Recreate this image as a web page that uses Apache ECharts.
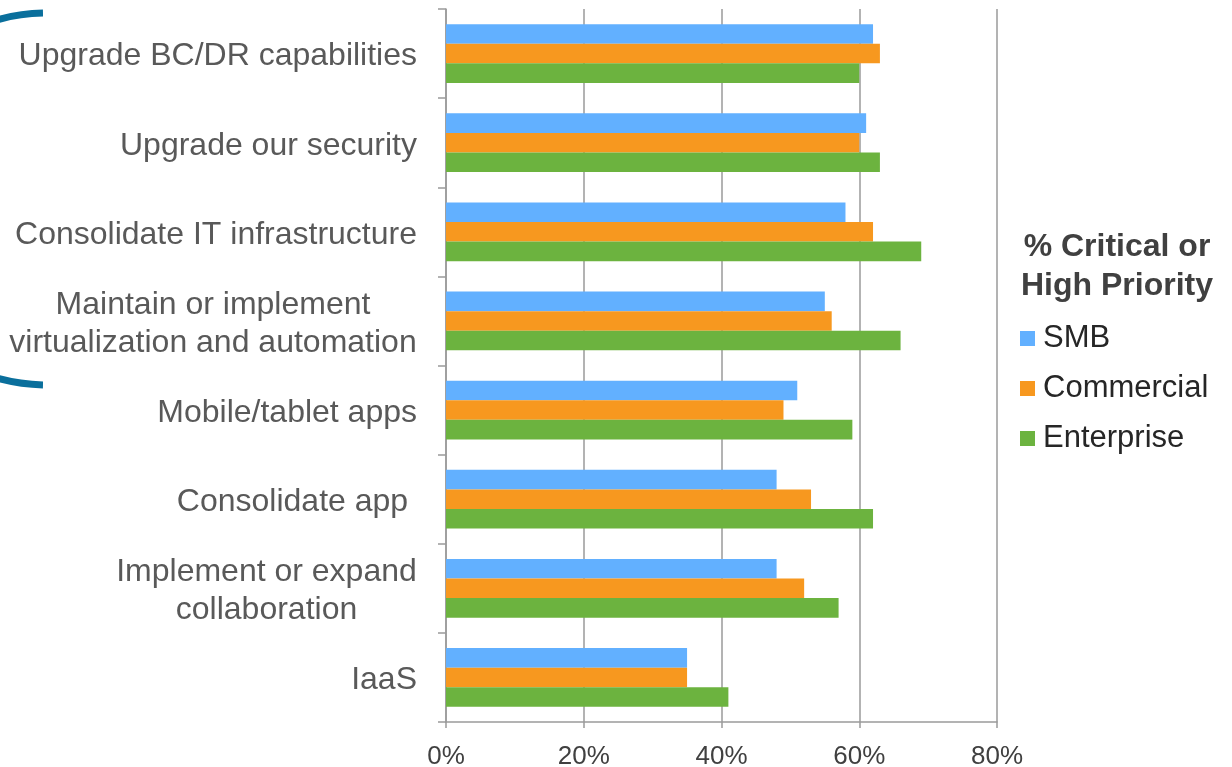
<!DOCTYPE html>
<html>
<head>
<meta charset="utf-8">
<script src="https://cdn.jsdelivr.net/npm/echarts@6/dist/echarts.min.js"></script>
<style>
html,body{margin:0;padding:0;background:#fff;}
#chart{width:1232px;height:767px;}
</style>
</head>
<body>
<div id="chart"></div>
<script>
const categories = [
  "Upgrade BC/DR capabilities",
  "Upgrade our security",
  "Consolidate IT infrastructure",
  "Maintain or implement\nvirtualization and automation",
  "Mobile/tablet apps",
  "Consolidate app ",
  "Implement or expand\ncollaboration",
  "IaaS"
];
const smb        = [62, 61, 58, 55, 51, 48, 48, 35];
const commercial = [63, 60, 62, 56, 49, 53, 52, 35];
const enterprise = [60, 63, 69, 66, 59, 62, 57, 41];
const xTicks = [0, 20, 40, 60, 80];
const legendTitle = "% Critical or\nHigh Priority";

const FONT = "Arial, 'Liberation Sans', Helvetica, sans-serif";
const CAT_SIZE = 32;
const ctx = document.createElement('canvas').getContext('2d');
ctx.font = CAT_SIZE + 'px ' + FONT;
function blockWidth(s){
  return Math.max.apply(null, s.split('\n').map(l => ctx.measureText(l).width));
}

const chart = echarts.init(document.getElementById('chart'), null, {renderer: 'canvas'});
const option = {
  animation: false,
  backgroundColor: '#ffffff',
  textStyle: {fontFamily: FONT},
  title: {
    text: legendTitle,
    left: 1112, top: 223,
    textAlign: 'center',
    textStyle: {fontFamily: FONT, fontSize: 32, fontWeight: 'bold', color: '#404040', lineHeight: 39}
  },
  legend: {
    orient: 'vertical',
    left: 1015, top: 318,
    itemWidth: 15, itemHeight: 15,
    itemGap: 19,
    icon: 'rect',
    data: ['SMB', 'Commercial', 'Enterprise'],
    textStyle: {fontFamily: FONT, fontSize: 31, color: '#262626', padding: [0, 0, 0, 3], lineHeight: 31}
  },
  grid: {left: 446, right: 235, top: 9, bottom: 45, containLabel: false, outerBoundsMode: 'none'},
  xAxis: {
    type: 'value',
    min: xTicks[0], max: xTicks[xTicks.length - 1], interval: 20,
    axisLine: {show: true, lineStyle: {color: '#9a9a9a', width: 1.5}},
    axisTick: {show: true, length: 6, lineStyle: {color: '#9a9a9a', width: 1.5}},
    splitLine: {show: true, lineStyle: {color: '#9a9a9a', width: 1.5}},
    axisLabel: {formatter: '{value}%', fontSize: 26, color: '#404040', margin: 22, fontFamily: FONT}
  },
  yAxis: {
    type: 'category',
    inverse: true,
    data: categories,
    axisLine: {show: true, lineStyle: {color: '#9a9a9a', width: 1.5}},
    axisTick: {show: true, length: 8, lineStyle: {color: '#9a9a9a', width: 1.5}},
    axisLabel: {
      margin: 29,
      fontSize: CAT_SIZE,
      color: '#595959',
      fontFamily: FONT,
      lineHeight: 38,
      padding: [6, 0, 0, 0],
      formatter: function (v) {
        if (v.indexOf('\n') >= 0) {
          const key = v === categories[3] ? 'c' : 'd';
          return '{' + key + '|' + v + '}';
        }
        return v;
      },
      rich: {
        c: {fontSize: CAT_SIZE, color: '#595959', fontFamily: FONT, align: 'center', lineHeight: 38,
            width: Math.ceil(blockWidth(categories[3]))},
        d: {fontSize: CAT_SIZE, color: '#595959', fontFamily: FONT, align: 'center', lineHeight: 38,
            width: Math.ceil(blockWidth(categories[6]))}
      }
    }
  },
  series: [
    {name: 'SMB', type: 'bar', data: smb, barGap: '0%', barCategoryGap: '34%',
     itemStyle: {color: '#62b0ff'}},
    {name: 'Commercial', type: 'bar', data: commercial, barGap: '0%', barCategoryGap: '34%',
     itemStyle: {color: '#f7981f'}},
    {name: 'Enterprise', type: 'bar', data: enterprise, barGap: '0%', barCategoryGap: '34%',
     itemStyle: {color: '#6cb33f'}}
  ],
  graphic: [
    {
      type: 'arc',
      shape: {cx: 47, cy: 199, r: 186, startAngle: 1.5924, endAngle: 4.6908, clockwise: true},
      style: {stroke: '#0a6f9c', lineWidth: 7, fill: null, lineCap: 'butt'},
      silent: true
    }
  ]
};
chart.setOption(option);
</script>
</body>
</html>
